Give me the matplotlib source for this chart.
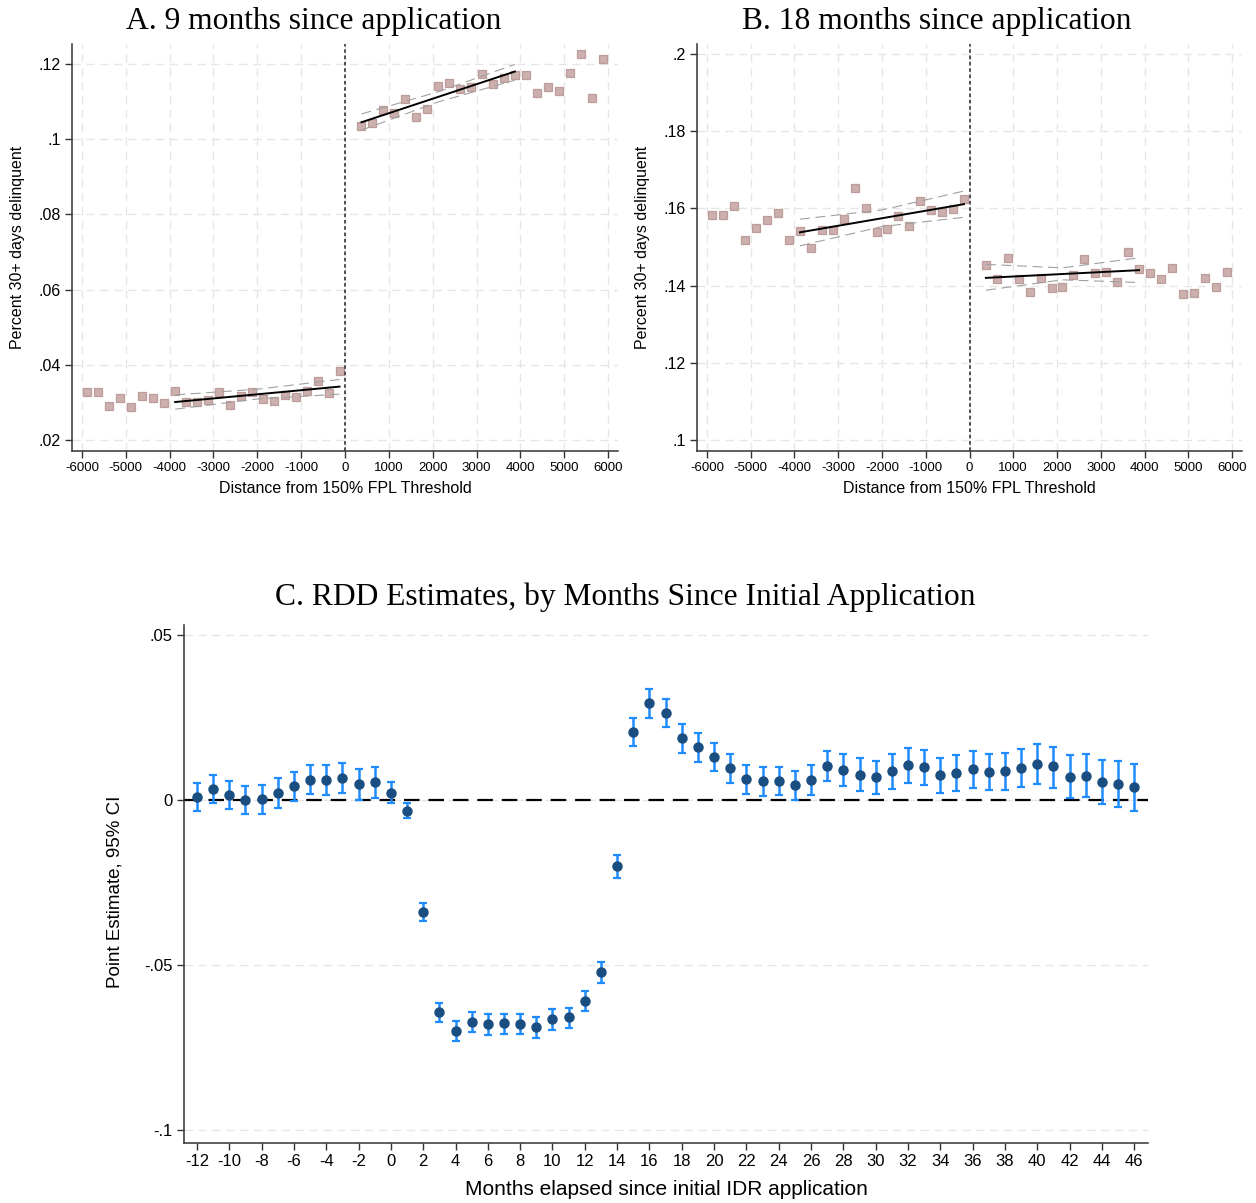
import matplotlib
matplotlib.use("Agg")
import matplotlib.pyplot as plt
import numpy as np

# ---- data ----
# binned scatter, bins of 250 around the 150% FPL threshold
bins_left = np.arange(-5875, 0, 250)          # 24 bins
bins_right = np.arange(375, 6000, 250)        # 23 bins

a_left = [0.0327, 0.0327, 0.0291, 0.0311, 0.0287, 0.0316, 0.0311, 0.0298,
          0.0330, 0.0300, 0.0300, 0.0306, 0.0328, 0.0293, 0.0316, 0.0328,
          0.0309, 0.0304, 0.0319, 0.0314, 0.0329, 0.0357, 0.0324, 0.0383]
a_right = [0.1035, 0.1044, 0.1077, 0.1071, 0.1106, 0.1059, 0.1080, 0.1141,
           0.1149, 0.1133, 0.1138, 0.1173, 0.1146, 0.1164, 0.1170, 0.1170,
           0.1122, 0.1138, 0.1127, 0.1175, 0.1226, 0.1110, 0.1212]

b_left = [0.1583, 0.1583, 0.1606, 0.1518, 0.1548, 0.1570, 0.1587, 0.1517,
          0.1541, 0.1497, 0.1543, 0.1543, 0.1572, 0.1652, 0.1600, 0.1539,
          0.1546, 0.1580, 0.1554, 0.1619, 0.1595, 0.1590, 0.1599, 0.1624]
b_right = [0.1453, 0.1416, 0.1472, 0.1416, 0.1383, 0.1419, 0.1393, 0.1396,
           0.1427, 0.1468, 0.1432, 0.1435, 0.1409, 0.1486, 0.1442, 0.1432,
           0.1417, 0.1445, 0.1378, 0.1381, 0.1419, 0.1396, 0.1435]

# linear fits with 95% CI (start, middle, end of fit window)
fit_x_left = [-3875, -2000, -125]
fit_x_right = [375, 2125, 3875]

a_fit_left = [0.0301, 0.03215, 0.0342]
a_lo_left = [0.0282, 0.0309, 0.0322]
a_hi_left = [0.0320, 0.0335, 0.0361]
a_fit_right = [0.1045, 0.11125, 0.1180]
a_lo_right = [0.1024, 0.1099, 0.1157]
a_hi_right = [0.1067, 0.1126, 0.1199]

b_fit_left = [0.1538, 0.1575, 0.1611]
b_lo_left = [0.1503, 0.1553, 0.1577]
b_hi_left = [0.1572, 0.1596, 0.1645]
b_fit_right = [0.1420, 0.1430, 0.1440]
b_lo_right = [0.1388, 0.1415, 0.1408]
b_hi_right = [0.1455, 0.1446, 0.1472]

# RDD estimates by month
months = np.arange(-12, 47)
est = [0.0009, 0.0034, 0.0014, 0.0000, 0.0002, 0.0021, 0.0041, 0.0062,
       0.0062, 0.0067, 0.0048, 0.0054, 0.0022, -0.0032, -0.0339, -0.0643,
       -0.0699, -0.0672, -0.0680, -0.0677, -0.0679, -0.0688, -0.0664, -0.0658,
       -0.0610, -0.0521, -0.0201, 0.0205, 0.0294, 0.0264, 0.0187, 0.0161,
       0.0130, 0.0096, 0.0063, 0.0058, 0.0059, 0.0044, 0.0061, 0.0104,
       0.0092, 0.0077, 0.0069, 0.0088, 0.0105, 0.0101, 0.0075, 0.0083,
       0.0093, 0.0086, 0.0087, 0.0097, 0.0110, 0.0102, 0.0071, 0.0074,
       0.0055, 0.0049, 0.0039]
ci_hi = [0.0051, 0.0077, 0.0057, 0.0043, 0.0046, 0.0066, 0.0086, 0.0107,
         0.0107, 0.0113, 0.0094, 0.0100, 0.0054, -0.0008, -0.0313, -0.0615,
         -0.0669, -0.0641, -0.0649, -0.0647, -0.0649, -0.0659, -0.0634, -0.0629,
         -0.0580, -0.0491, -0.0166, 0.0248, 0.0335, 0.0306, 0.0230, 0.0203,
         0.0173, 0.0139, 0.0106, 0.0100, 0.0101, 0.0089, 0.0106, 0.0149,
         0.0139, 0.0126, 0.0119, 0.0139, 0.0157, 0.0152, 0.0128, 0.0137,
         0.0148, 0.0140, 0.0143, 0.0155, 0.0170, 0.0162, 0.0135, 0.0139,
         0.0121, 0.0118, 0.0110]
ci_lo = [-0.0033, -0.0008, -0.0028, -0.0042, -0.0041, -0.0023, -0.0003, 0.0017,
         0.0015, 0.0020, 0.0000, 0.0007, -0.0010, -0.0056, -0.0366, -0.0674,
         -0.0730, -0.0703, -0.0711, -0.0709, -0.0710, -0.0720, -0.0696, -0.0690,
         -0.0639, -0.0554, -0.0237, 0.0164, 0.0249, 0.0221, 0.0143, 0.0116,
         0.0087, 0.0053, 0.0019, 0.0013, 0.0014, 0.0000, 0.0015, 0.0058,
         0.0043, 0.0028, 0.0018, 0.0034, 0.0053, 0.0046, 0.0020, 0.0028,
         0.0036, 0.0029, 0.0030, 0.0038, 0.0049, 0.0037, 0.0007, 0.0008,
         -0.0012, -0.0021, -0.0032]

a_yticks = [0.02, 0.04, 0.06, 0.08, 0.10, 0.12]
a_ylabels = ['.02', '.04', '.06', '.08', '.1', '.12']
b_yticks = [0.10, 0.12, 0.14, 0.16, 0.18, 0.20]
b_ylabels = ['.1', '.12', '.14', '.16', '.18', '.2']
c_yticks = [-0.10, -0.05, 0.0, 0.05]
c_ylabels = ['-.1', '-.05', '0', '.05']
dist_ticks = np.arange(-6000, 6001, 1000)
month_ticks = np.arange(-12, 47, 2)

SANS = 'Liberation Sans'
SERIF = 'Liberation Serif'
W, H = 1256, 1203

fig = plt.figure(figsize=(W / 100, H / 100), dpi=100)


def px_axes(x0, y0, x1, y1):
    # axes from pixel box (top-left origin)
    return fig.add_axes([x0 / W, 1 - y1 / H, (x1 - x0) / W, (y1 - y0) / H])


def style_axes(ax, xfs, yfs):
    for s in ['top', 'right']:
        ax.spines[s].set_visible(False)
    for s in ['left', 'bottom']:
        ax.spines[s].set_color('#333333')
        ax.spines[s].set_linewidth(1.1)
    ax.tick_params(direction='out', length=5, width=1, color='#333333', pad=3)
    ax.tick_params(axis='x', labelsize=xfs)
    ax.tick_params(axis='y', labelsize=yfs)
    for lab in ax.get_xticklabels() + ax.get_yticklabels():
        lab.set_family(SANS)


def rd_panel(ax, yl, yr, fl, fr, lol, lor, hil, hir, yticks, ylabels, ylim):
    ax.set_xlim(-6228, 6228)
    ax.set_ylim(*ylim)
    ax.set_xticks(dist_ticks)
    ax.set_xticklabels([str(t) for t in dist_ticks])
    ax.set_yticks(yticks)
    ax.set_yticklabels(ylabels)
    ax.grid(True, color='#e6e6e6', linestyle=(0, (6, 4)), linewidth=1)
    ax.set_axisbelow(True)
    sq = dict(marker='s', ms=6, mfc='#ccb0ad', mec='#bd9d99', mew=0.9, ls='none')
    ax.plot(bins_left, yl, **sq)
    ax.plot(bins_right, yr, **sq)
    for xs, f, lo, hi in [(fit_x_left, fl, lol, hil), (fit_x_right, fr, lor, hir)]:
        ax.plot(xs, lo, color='#a0a0a0', lw=0.8, ls=(0, (9, 5)))
        ax.plot(xs, hi, color='#a0a0a0', lw=0.8, ls=(0, (9, 5)))
        ax.plot([xs[0], xs[-1]], [f[0], f[-1]], color='black', lw=1.4)
    ax.axvline(0, color='#444444', lw=1.3, ls=(0, (2, 1.5)))
    style_axes(ax, 9.5, 11.5)
    ax.set_xlabel('Distance from 150% FPL Threshold', family=SANS,
                  fontsize=11.5, labelpad=5)


axA = px_axes(72, 44, 618, 451)
rd_panel(axA, a_left, a_right, a_fit_left, a_fit_right, a_lo_left, a_lo_right,
         a_hi_left, a_hi_right, a_yticks, a_ylabels,
         (0.02 - 11 / 3760, 0.12 + 20 / 3760))
axB = px_axes(697, 44, 1242, 451)
rd_panel(axB, b_left, b_right, b_fit_left, b_fit_right, b_lo_left, b_lo_right,
         b_hi_left, b_hi_right, b_yticks, b_ylabels,
         (0.1 - 11 / 3860, 0.2 + 10 / 3860))

fig.text(314 / W, 1 - 21 / H, 'A. 9 months since application', family=SERIF,
         fontsize=22.7, ha='center', va='center')
fig.text(937 / W, 1 - 21 / H, 'B. 18 months since application', family=SERIF,
         fontsize=22.7, ha='center', va='center')
fig.text(18 / W, 1 - 247 / H, 'Percent 30+ days delinquent', family=SANS,
         fontsize=11.5, rotation=90, ha='center', va='center')
fig.text(642 / W, 1 - 247 / H, 'Percent 30+ days delinquent', family=SANS,
         fontsize=11.5, rotation=90, ha='center', va='center')

# ---- panel C ----
axC = px_axes(184, 625, 1148, 1143)
axC.set_xlim(-12.8, 46.85)
axC.set_ylim(-0.1 - 13 / 3300, 0.05 + 10 / 3300)
axC.set_xticks(month_ticks)
axC.set_xticklabels([str(t) for t in month_ticks])
axC.set_yticks(c_yticks)
axC.set_yticklabels(c_ylabels)
axC.yaxis.grid(True, color='#e6e6e6', linestyle=(0, (6, 4)), linewidth=1)
axC.set_axisbelow(True)
axC.axhline(0, color='black', lw=1.6, ls=(0, (7, 4)), zorder=1)
est_a = np.array(est)
yerr = [est_a - np.array(ci_lo), np.array(ci_hi) - est_a]
axC.errorbar(months, est, yerr=yerr, fmt='o', ms=6.5, mfc='#1a4d80',
             mec='#1a4d80', ecolor='#1e8cff', elinewidth=1.8, capsize=3.2,
             capthick=1.6, zorder=3)
style_axes(axC, 12, 12)
axC.set_xlabel('Months elapsed since initial IDR application', family=SANS,
               fontsize=15, labelpad=8)
fig.text(115 / W, 1 - 892 / H, 'Point Estimate, 95% CI', family=SANS,
         fontsize=13.5, rotation=90, ha='center', va='center')
fig.text(625 / W, 1 - 597 / H,
         'C. RDD Estimates, by Months Since Initial Application', family=SERIF,
         fontsize=22.7, ha='center', va='center')

fig.savefig('out.png', dpi=100)
